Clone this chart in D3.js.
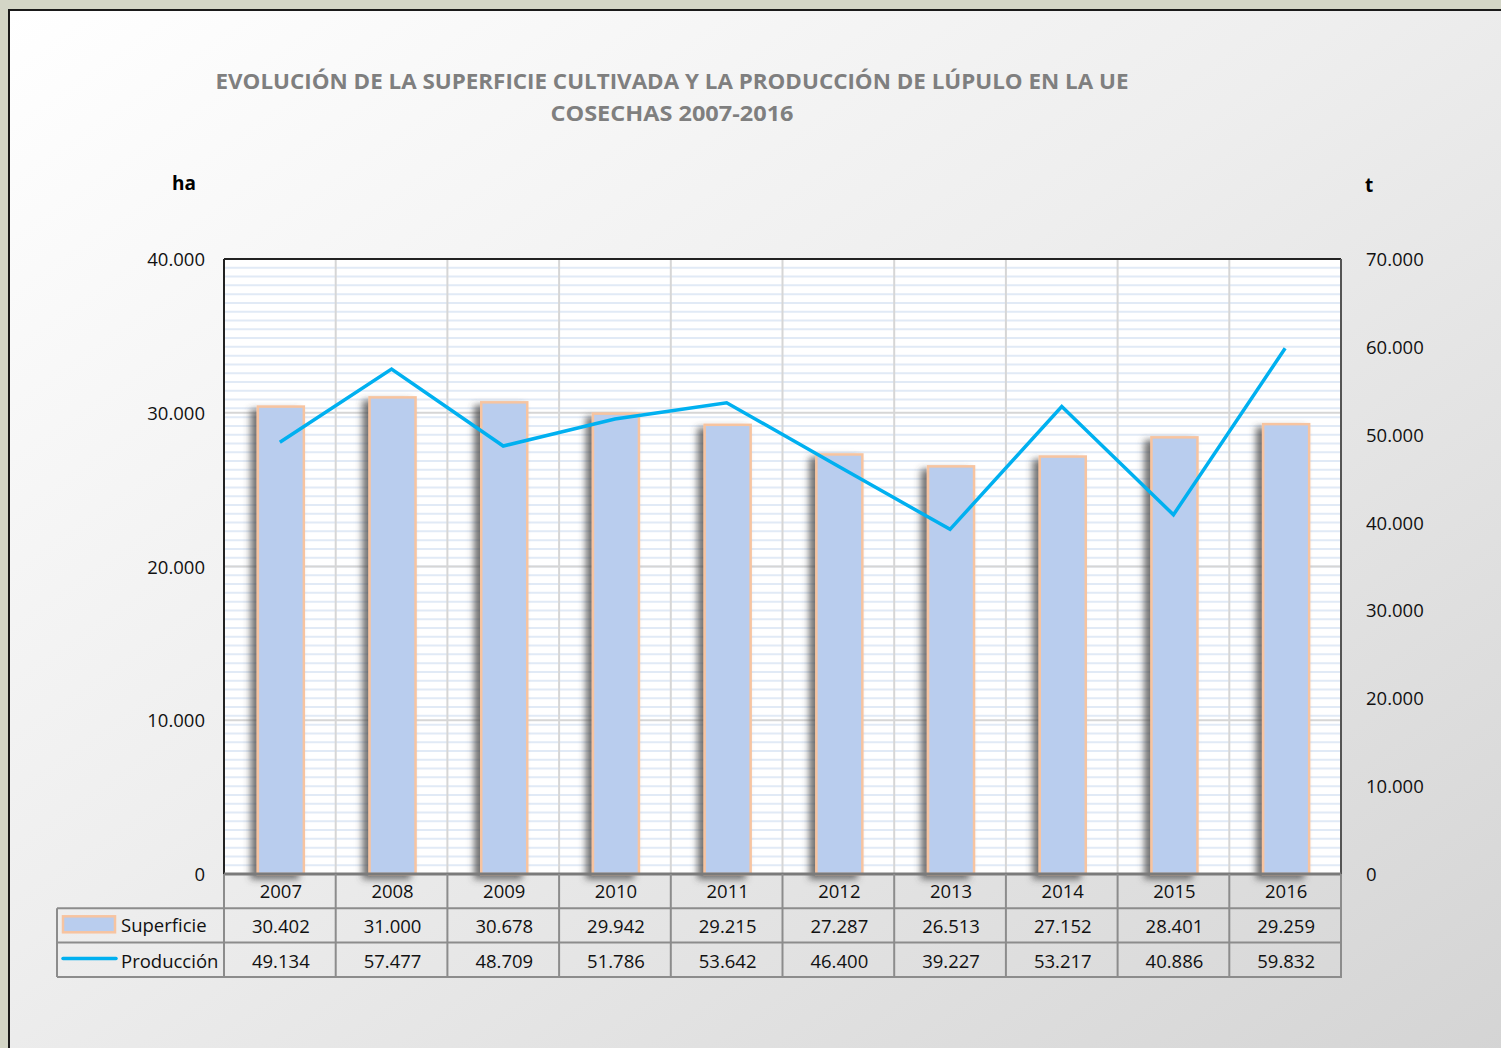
<!DOCTYPE html>
<html>
<head>
<meta charset="utf-8">
<script src="https://cdn.jsdelivr.net/npm/d3@7"></script>
<style>
  html, body { margin: 0; padding: 0; background: #d3d5c6; }
  svg { display: block; }
  text { font-family: "Open Sans", sans-serif; }
</style>
</head>
<body>
<div id="chart"></div>
<script>
// Chart data
const years = ['2007', '2008', '2009', '2010', '2011', '2012', '2013', '2014', '2015', '2016'];
const superficie = [30402, 31000, 30678, 29942, 29215, 27287, 26513, 27152, 28401, 29259];
const produccion = [49134, 57477, 48709, 51786, 53642, 46400, 39227, 53217, 40886, 59832];
const leftTicks = [0, 10000, 20000, 30000, 40000];
const rightTicks = [0, 10000, 20000, 30000, 40000, 50000, 60000, 70000];
const titleLines = ['EVOLUCIÓN  DE LA SUPERFICIE  CULTIVADA  Y LA PRODUCCIÓN  DE LÚPULO EN  LA UE', 'COSECHAS  2007-2016'];

const W = 1501, H = 1048;
const plot = { left: 224, right: 1341, top: 259, bottom: 874 };
const rowH = 34.3;
const tableLeft = 57;

// Spanish number format: 30.402
const fmt = d3.formatLocale({ decimal: ',', thousands: '.', grouping: [3], currency: ['', ''] }).format(',d');

const svg = d3.select('#chart').append('svg')
    .attr('width', W)
    .attr('height', H);

const defs = svg.append('defs');

// Panel background gradient
const grad = defs.append('linearGradient')
    .attr('id', 'panelGrad')
    .attr('x1', '0%').attr('y1', '0%')
    .attr('x2', '100%').attr('y2', '100%');
grad.append('stop').attr('offset', '0%').attr('stop-color', '#ffffff');
grad.append('stop').attr('offset', '45%').attr('stop-color', '#eeeeee');
grad.append('stop').attr('offset', '100%').attr('stop-color', '#d4d4d4');

// Soft shadow for bars
const shadow = defs.append('filter')
    .attr('id', 'barShadow')
    .attr('x', '-40%').attr('y', '-10%')
    .attr('width', '180%').attr('height', '120%');
shadow.append('feDropShadow')
    .attr('dx', -6).attr('dy', 4)
    .attr('stdDeviation', 3.5)
    .attr('flood-color', '#444')
    .attr('flood-opacity', 0.75);

// Outer background
svg.append('rect')
    .attr('width', W).attr('height', H)
    .attr('fill', '#d3d5c6');

// Panel
svg.append('rect')
    .attr('x', 9).attr('y', 10)
    .attr('width', W).attr('height', H)
    .attr('fill', 'url(#panelGrad)')
    .attr('stroke', '#1a1a1a')
    .attr('stroke-width', 2);

// Title
const titleWidths = [913, 243];
svg.selectAll('.title')
    .data(titleLines)
    .enter()
    .append('text')
    .attr('class', 'title')
    .attr('x', 672)
    .attr('y', (d, i) => 89 + i * 32)
    .attr('text-anchor', 'middle')
    .attr('textLength', (d, i) => titleWidths[i])
    .attr('lengthAdjust', 'spacingAndGlyphs')
    .style('font-size', '21px')
    .style('font-weight', 'bold')
    .style('fill', '#7f7f7f')
    .text(d => d);

// Axis unit labels
svg.append('text')
    .attr('x', 184).attr('y', 190)
    .attr('text-anchor', 'middle')
    .style('font-size', '19px').style('font-weight', 'bold')
    .text('ha');
svg.append('text')
    .attr('x', 1369).attr('y', 192)
    .attr('text-anchor', 'middle')
    .style('font-size', '19px').style('font-weight', 'bold')
    .text('t');

// Scales
const x = d3.scaleBand()
    .domain(years)
    .range([plot.left, plot.right]);

const yLeft = d3.scaleLinear()
    .domain([0, 40000])
    .range([plot.bottom, plot.top]);

const yRight = d3.scaleLinear()
    .domain([0, 70000])
    .range([plot.bottom, plot.top]);

// Plot background
svg.append('rect')
    .attr('x', plot.left).attr('y', plot.top)
    .attr('width', plot.right - plot.left)
    .attr('height', plot.bottom - plot.top)
    .attr('fill', '#ffffff');

// Minor gridlines (secondary axis, every 1.000 t)
const minorTicks = d3.range(1000, 70000, 1000);
svg.append('g')
    .selectAll('line')
    .data(minorTicks)
    .enter()
    .append('line')
    .attr('x1', plot.left).attr('x2', plot.right)
    .attr('y1', d => yRight(d)).attr('y2', d => yRight(d))
    .attr('stroke', '#e1eaf6')
    .attr('stroke-width', 2);

// Major gridlines (primary axis)
svg.append('g')
    .selectAll('line')
    .data(leftTicks.slice(1, -1))
    .enter()
    .append('line')
    .attr('x1', plot.left).attr('x2', plot.right)
    .attr('y1', d => yLeft(d)).attr('y2', d => yLeft(d))
    .attr('stroke', '#d6d6d6')
    .attr('stroke-width', 2);

// Vertical gridlines at category boundaries
svg.append('g')
    .selectAll('line')
    .data(years.slice(1))
    .enter()
    .append('line')
    .attr('x1', d => x(d)).attr('x2', d => x(d))
    .attr('y1', plot.top).attr('y2', plot.bottom)
    .attr('stroke', '#d6d6d6')
    .attr('stroke-width', 2);

// Bars
const barW = 46;
svg.append('g')
    .selectAll('rect')
    .data(superficie)
    .enter()
    .append('rect')
    .attr('x', (d, i) => x(years[i]) + x.bandwidth() / 2 - barW / 2 + 1)
    .attr('y', d => yLeft(d))
    .attr('width', barW)
    .attr('height', d => plot.bottom - yLeft(d))
    .attr('fill', '#b9cdee')
    .attr('stroke', '#f7c4a0')
    .attr('stroke-width', 2.5)
    .attr('filter', 'url(#barShadow)');

// Production line
const line = d3.line()
    .x((d, i) => x(years[i]) + x.bandwidth() / 2)
    .y(d => yRight(d));

svg.append('path')
    .datum(produccion)
    .attr('d', line)
    .attr('fill', 'none')
    .attr('stroke', '#00b0f0')
    .attr('stroke-width', 3.5)
    .attr('stroke-linejoin', 'miter');

// Plot frame
svg.append('line')
    .attr('x1', plot.left).attr('x2', plot.right)
    .attr('y1', plot.top).attr('y2', plot.top)
    .attr('stroke', '#222').attr('stroke-width', 2);
svg.append('line')
    .attr('x1', plot.left).attr('x2', plot.left)
    .attr('y1', plot.top).attr('y2', plot.bottom)
    .attr('stroke', '#222').attr('stroke-width', 2);
svg.append('line')
    .attr('x1', plot.right).attr('x2', plot.right)
    .attr('y1', plot.top).attr('y2', plot.bottom)
    .attr('stroke', '#555').attr('stroke-width', 2);

// Left axis labels
svg.append('g')
    .selectAll('text')
    .data(leftTicks)
    .enter()
    .append('text')
    .attr('x', 205)
    .attr('y', d => yLeft(d) + 7)
    .attr('text-anchor', 'end')
    .style('font-size', '18.5px')
    .style('fill', '#111')
    .text(d => fmt(d));

// Right axis labels
svg.append('g')
    .selectAll('text')
    .data(rightTicks)
    .enter()
    .append('text')
    .attr('x', 1366)
    .attr('y', d => yRight(d) + 7)
    .attr('text-anchor', 'start')
    .style('font-size', '18.5px')
    .style('fill', '#111')
    .text(d => fmt(d));

// Data table
const table = svg.append('g');
const tableStroke = '#8c8c8c';
const rowTop = [plot.bottom, plot.bottom + rowH, plot.bottom + 2 * rowH, plot.bottom + 3 * rowH];

// Horizontal lines
table.append('line')
    .attr('x1', plot.left).attr('x2', plot.right)
    .attr('y1', rowTop[0]).attr('y2', rowTop[0])
    .attr('stroke', '#7a7a7a').attr('stroke-width', 3);
[1, 2, 3].forEach(r => {
    table.append('line')
        .attr('x1', tableLeft).attr('x2', plot.right + 1)
        .attr('y1', rowTop[r]).attr('y2', rowTop[r])
        .attr('stroke', tableStroke).attr('stroke-width', 2);
});

// Vertical lines
const colEdges = years.map(y => x(y)).concat([plot.right]);
table.selectAll('.vline')
    .data(colEdges)
    .enter()
    .append('line')
    .attr('class', 'vline')
    .attr('x1', d => d).attr('x2', d => d)
    .attr('y1', rowTop[0]).attr('y2', rowTop[3])
    .attr('stroke', tableStroke).attr('stroke-width', 2);
table.append('line')
    .attr('x1', tableLeft).attr('x2', tableLeft)
    .attr('y1', rowTop[1]).attr('y2', rowTop[3])
    .attr('stroke', tableStroke).attr('stroke-width', 2);

// Year row
table.selectAll('.year')
    .data(years)
    .enter()
    .append('text')
    .attr('class', 'year')
    .attr('x', d => x(d) + x.bandwidth() / 2 + 1)
    .attr('y', rowTop[0] + 24)
    .attr('text-anchor', 'middle')
    .style('font-size', '18.5px')
    .style('fill', '#111')
    .text(d => d);

// Value rows
[superficie, produccion].forEach((series, r) => {
    table.selectAll('.val' + r)
        .data(series)
        .enter()
        .append('text')
        .attr('class', 'val' + r)
        .attr('x', (d, i) => x(years[i]) + x.bandwidth() / 2 + 1)
        .attr('y', rowTop[r + 1] + 25)
        .attr('text-anchor', 'middle')
        .style('font-size', '18.5px')
        .style('fill', '#111')
        .text(d => fmt(d));
});

// Legend keys in the table
table.append('rect')
    .attr('x', 63).attr('y', rowTop[1] + 8)
    .attr('width', 52).attr('height', 16)
    .attr('fill', '#b9cdee')
    .attr('stroke', '#f7c4a0')
    .attr('stroke-width', 2.5);
table.append('line')
    .attr('x1', 63).attr('x2', 116)
    .attr('y1', rowTop[2] + 16).attr('y2', rowTop[2] + 16)
    .attr('stroke', '#00b0f0')
    .attr('stroke-width', 3.5)
    .attr('stroke-linecap', 'round');

table.append('text')
    .attr('x', 121).attr('y', rowTop[1] + 24)
    .style('font-size', '18.5px').style('fill', '#111')
    .text('Superficie');
table.append('text')
    .attr('x', 121).attr('y', rowTop[2] + 25)
    .style('font-size', '18.5px').style('fill', '#111')
    .text('Producción');
</script>
</body>
</html>
